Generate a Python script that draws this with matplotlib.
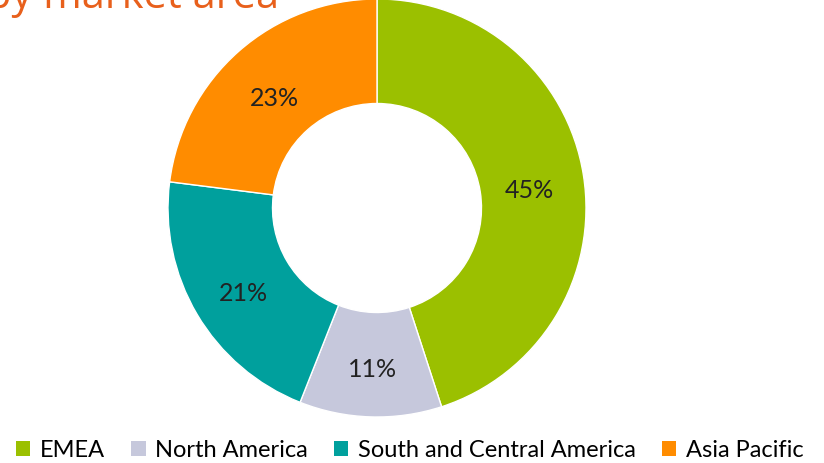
import matplotlib
matplotlib.use("Agg")
import matplotlib.pyplot as plt
from matplotlib.patches import Rectangle, Circle

categories = ["EMEA", "North America", "South and Central America", "Asia Pacific"]
values = [45, 11, 21, 23]
colors = ["#9BC000", "#C6C8DC", "#00A09D", "#FF8C00"]
title = "by market area"

W, H = 824, 464
fig = plt.figure(figsize=(W / 100, H / 100), dpi=100)
fig.patch.set_facecolor("white")

cx, cy, r = 377, 209, 209
ax = fig.add_axes([(cx - r) / W, (H - cy - r) / H, 2 * r / W, 2 * r / H])
wedges, texts, autotexts = ax.pie(
    values, colors=colors, startangle=90, counterclock=False,
    radius=1, autopct=lambda p: f"{p:.0f}%", pctdistance=0.74,
    wedgeprops=dict(width=0.5, edgecolor="white", linewidth=1),
    textprops=dict(fontsize=18, color="#222222", family=["Lato", "DejaVu Sans"]),
)
for t in autotexts:
    x, y = t.get_position()
    t.set_position((x, y - 0.028))
ax.set_xlim(-1, 1)
ax.set_ylim(-1, 1)
ax.set_aspect("equal")
ax.axis("off")

# cut-off title at the top
fig.text(-14 / W, 1 - 8 / H, title, fontsize=30, color="#E8601C",
         va="baseline", ha="left", family=["Open Sans", "DejaVu Sans"])

# faint decoration at top-right
fig.patches.append(Circle((757 / W, 1 + 12 / H), 16 / W, transform=fig.transFigure,
                          facecolor="#FDD9A8", edgecolor="none"))

handles = [Rectangle((0, 0), 1, 1, facecolor=c, edgecolor="none") for c in colors]
fig.legend(handles, categories, loc="center", bbox_to_anchor=(410 / W, 1 - 451 / H),
           ncol=4, frameon=False, handlelength=0.6, handleheight=0.6,
           handletextpad=0.42, columnspacing=1.1, borderpad=0.1,
           prop=dict(size=17, family=["Lato", "DejaVu Sans"]))

fig.savefig("out.png", dpi=100)
